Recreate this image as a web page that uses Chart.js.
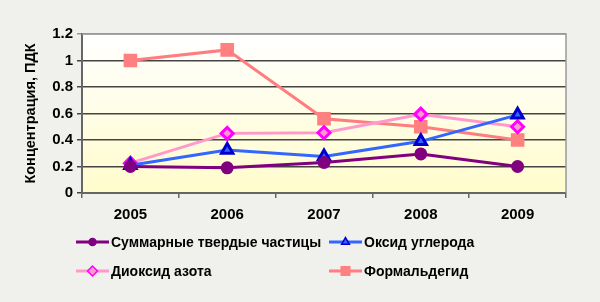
<!DOCTYPE html>
<html>
<head>
<meta charset="utf-8">
<script src="https://cdn.jsdelivr.net/npm/chart.js@4/dist/chart.umd.min.js"></script>
<style>
  html, body { margin: 0; padding: 0; background: #f0f0ec; }
  #wrap { width: 600px; height: 302px; position: relative; }
</style>
</head>
<body>
<div id="wrap"><canvas id="myChart" width="600" height="302"></canvas></div>
<script>
// years on the x axis
const years = ["2005", "2006", "2007", "2008", "2009"];
// concentration, in ПДК units
const particles = [0.20, 0.19, 0.23, 0.295, 0.20];
const carbonOxide = [0.21, 0.325, 0.275, 0.39, 0.59];
const nitrogenDioxide = [0.225, 0.45, 0.455, 0.595, 0.50];
const formaldehyde = [1.00, 1.08, 0.56, 0.50, 0.40];
const yTicks = [0, 0.2, 0.4, 0.6, 0.8, 1, 1.2];

const boldFont = "bold 14px 'Liberation Sans', Arial, sans-serif";

// yellowish background + grey frame of the plot area
const plotBack = {
    id: "plotBack",
    beforeDraw(chart) {
        const { ctx, chartArea: a } = chart;
        const g = ctx.createLinearGradient(0, a.top, 0, a.bottom);
        g.addColorStop(0, "#ffffff");
        g.addColorStop(1, "#fffccc");
        ctx.save();
        ctx.fillStyle = g;
        ctx.fillRect(a.left, a.top, a.right - a.left, a.bottom - a.top);
        ctx.restore();
    },
    afterDatasetsDraw(chart) {
        const { ctx, chartArea: a } = chart;
        ctx.save();
        ctx.strokeStyle = "#999";
        ctx.lineWidth = 1.5;
        ctx.beginPath();
        ctx.moveTo(a.left, a.top);
        ctx.lineTo(a.right, a.top);
        ctx.lineTo(a.right, a.bottom);
        ctx.stroke();
        ctx.restore();
    }
};

// legend in two columns, like the excel one
const twoColLegend = {
    id: "twoColLegend",
    afterDraw(chart) {
        const ctx = chart.ctx;
        const cols = [76, 329];
        const rows = [242, 271];
        ctx.save();
        chart.data.datasets.forEach((ds, i) => {
            const x = cols[i % 2];
            const y = rows[Math.floor(i / 2)];
            ctx.strokeStyle = ds.borderColor;
            ctx.lineWidth = 3;
            ctx.beginPath();
            ctx.moveTo(x, y);
            ctx.lineTo(x + 33, y);
            ctx.stroke();
            ctx.fillStyle = ds.pointBackgroundColor;
            ctx.strokeStyle = ds.pointBorderColor;
            ctx.lineWidth = 1.5;
            Chart.helpers.drawPoint(ctx, {
                pointStyle: ds.pointStyle,
                rotation: 0,
                radius: ds.legendRadius,
                borderWidth: 1.5
            }, x + 16.5, y);
            ctx.fillStyle = "#000";
            ctx.font = boldFont;
            ctx.textBaseline = "middle";
            ctx.textAlign = "left";
            ctx.fillText(ds.label, x + 35, y + 1);
        });
        ctx.restore();
    }
};

const ctx = document.getElementById("myChart");
new Chart(ctx, {
    type: "line",
    data: {
        labels: years,
        datasets: [
            {
                label: "Суммарные твердые частицы",
                data: particles,
                borderColor: "#800080",
                pointBackgroundColor: "#800080",
                pointBorderColor: "#800080",
                pointStyle: "circle",
                pointRadius: 5,
                legendRadius: 3.5,
                borderWidth: 3,
                lineTension: 0
            },
            {
                label: "Оксид углерода",
                data: carbonOxide,
                borderColor: "#3366ff",
                pointBackgroundColor: "#3366ff",
                pointBorderColor: "#0000cc",
                pointStyle: "triangle",
                pointRadius: 6.5,
                legendRadius: 4.5,
                borderWidth: 3,
                lineTension: 0
            },
            {
                label: "Диоксид азота",
                data: nitrogenDioxide,
                borderColor: "#ff99cc",
                pointBackgroundColor: "#ff99cc",
                pointBorderColor: "#ff00ff",
                pointStyle: "rectRot",
                pointRadius: 6,
                legendRadius: 5,
                borderWidth: 3,
                lineTension: 0
            },
            {
                label: "Формальдегид",
                data: formaldehyde,
                borderColor: "#ff7c80",
                pointBackgroundColor: "#ff8080",
                pointBorderColor: "#ff8080",
                pointStyle: "rect",
                pointRadius: 7.5,
                legendRadius: 6,
                borderWidth: 3,
                lineTension: 0
            }
        ]
    },
    options: {
        responsive: false,
        animation: false,
        layout: { padding: { top: 34, right: 34, bottom: 0, left: 0 } },
        plugins: {
            legend: { display: false },
            tooltip: { enabled: false }
        },
        scales: {
            x: {
                offset: true,
                grid: {
                    offset: true,
                    drawOnChartArea: false,
                    drawTicks: true,
                    tickLength: 5,
                    color: "#666",
                    lineWidth: 1.5
                },
                border: { color: "#666", width: 2 },
                ticks: {
                    color: "#000",
                    font: { family: "'Liberation Sans', Arial, sans-serif", size: 15, weight: "bold" },
                    padding: 8,
                    maxRotation: 0
                },
                afterFit: (scale) => { scale.height = 109; }
            },
            y: {
                min: 0,
                max: 1.2,
                afterBuildTicks: (scale) => {
                    scale.ticks = yTicks.map(v => ({ value: v }));
                },
                grid: {
                    color: (c) => (c.tick && c.tick.value === 1.2 ? "#999" : "#444"),
                    lineWidth: 1.5,
                    tickLength: 5
                },
                border: { color: "#666", width: 2 },
                ticks: {
                    color: "#000",
                    font: { family: "'Liberation Sans', Arial, sans-serif", size: 15, weight: "bold" },
                    padding: 4,
                    callback: (v) => String(+v.toFixed(1))
                },
                title: {
                    display: true,
                    text: "Концентрация, ПДК",
                    color: "#000",
                    font: { family: "'Liberation Sans', Arial, sans-serif", size: 14.5, weight: "bold" },
                    padding: { top: 22, bottom: 0 }
                },
                afterFit: (scale) => { scale.width = 82; }
            }
        }
    },
    plugins: [plotBack, twoColLegend]
});
</script>
</body>
</html>
